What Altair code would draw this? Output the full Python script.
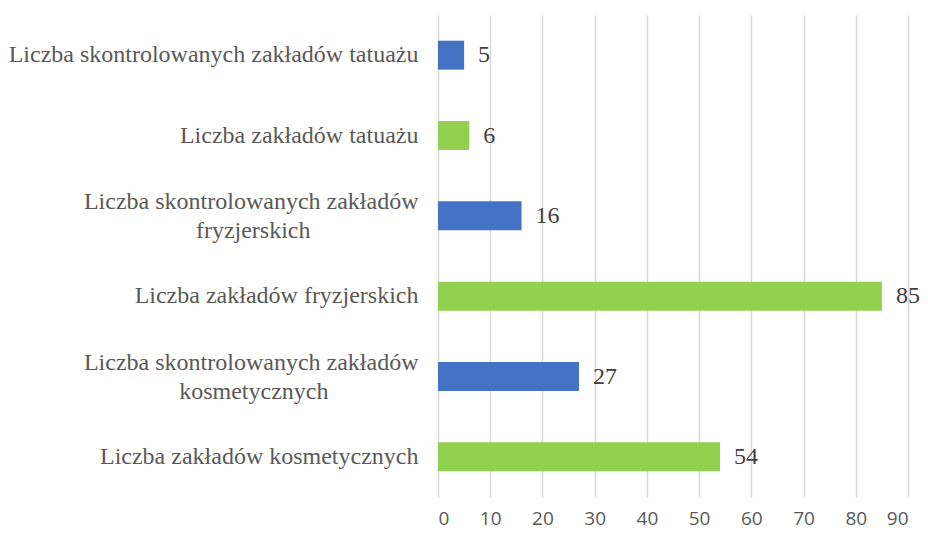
import altair as alt
import pandas as pd

categories = [
    "Liczba skontrolowanych zakładów tatuażu",
    "Liczba zakładów tatuażu",
    "Liczba skontrolowanych zakładów|fryzjerskich",
    "Liczba zakładów fryzjerskich",
    "Liczba skontrolowanych zakładów|kosmetycznych",
    "Liczba zakładów kosmetycznych",
]
values = [5, 6, 16, 85, 27, 54]
groups = ["skontrolowane", "wszystkie", "skontrolowane", "wszystkie", "skontrolowane", "wszystkie"]
x_ticks = [0, 10, 20, 30, 40, 50, 60, 70, 80, 90]

df = pd.DataFrame({"kategoria": categories, "wartosc": values, "grupa": groups})

# the second line of a wrapped label is centred under the first one (as in the original)
NB18 = "\u00a0" * 18 + "\u200c"
NB15 = "\u00a0" * 15 + "\u200c"
label_expr = (
    "indexof(datum.label, '|') >= 0 ? "
    "[split(datum.label, '|')[0], split(datum.label, '|')[1] + "
    "(indexof(datum.label, 'fryzj') >= 0 ? '" + NB18 + "' : '" + NB15 + "')] : datum.label"
)

y_enc = alt.Y(
    "kategoria:N",
    sort=categories,
    title=None,
    scale=alt.Scale(paddingInner=0.64, paddingOuter=0.32),
    axis=alt.Axis(
        labelFont="Liberation Serif",
        labelFontSize=24,
        labelColor="#595959",
        labelPadding=20,
        labelLimit=1000,
        labelLineHeight=29,
        labelOffset={"condition": {"test": "indexof(datum.label, '|') >= 0", "value": -14}, "value": 0},
        ticks=False,
        domain=False,
        grid=False,
        labelExpr=label_expr,
    ),
)

x_enc = alt.X(
    "wartosc:Q",
    title=None,
    scale=alt.Scale(domain=[0, 90], nice=False),
    axis=alt.Axis(
        values=x_ticks,
        grid=True,
        gridColor="#D9D9D9",
        gridWidth=1.5,
        domain=False,
        ticks=False,
        labelFont="Open Sans",
        labelFontSize=19,
        labelColor="#595959",
        labelPadding=12,
    ),
)

base = alt.Chart(df)

bars = base.mark_bar().encode(
    y=y_enc,
    x=x_enc,
    color=alt.Color(
        "grupa:N",
        scale=alt.Scale(domain=["skontrolowane", "wszystkie"], range=["#4472C4", "#92D050"]),
        legend=None,
    ),
)

labels = base.mark_text(
    align="left", baseline="middle", dx=14,
    font="Liberation Serif", fontSize=24, color="#404040",
).encode(
    y=alt.Y("kategoria:N", sort=categories),
    x=alt.X("wartosc:Q"),
    text=alt.Text("wartosc:Q"),
)

chart = (
    alt.layer(bars, labels)
    .properties(
        width=470,
        height=482,
        padding={"left": 430, "top": 7, "right": 12, "bottom": 34},
        autosize=alt.AutoSizeParams(type="none"),
    )
    .configure_view(stroke=None)
)

chart.save("out.html", embed_options={"renderer": "svg", "actions": False})
